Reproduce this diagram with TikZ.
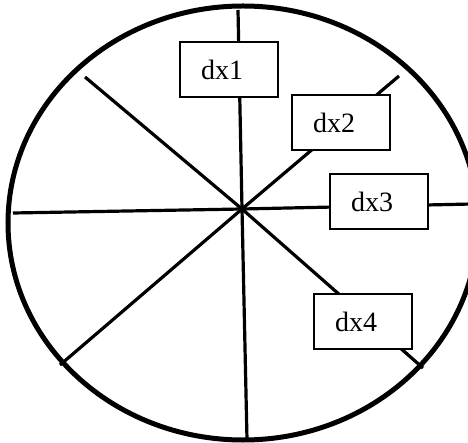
\documentclass[tikz,border=0pt]{standalone}
\usepackage{fontspec}
\setmainfont{Liberation Serif}
\usepackage{tikz}

\begin{document}
\begin{tikzpicture}[x=1pt, y=-1pt,
        % Define styles for the rim, the spokes and the label boxes
        rim/.style={line width=5pt},
        spoke/.style={line width=3.2pt},
        dxbox/.style={draw, fill=white, line width=2.5pt, align=left,
            text width=56pt, inner xsep=21pt, minimum height=55pt,
            font=\fontsize{28}{32}\selectfont}]

        \useasboundingbox (0,0) rectangle (468,443);

        % 1. Define the centre and the eight spoke ends
        \coordinate (O) at (242, 209); % The hub
        \coordinate (N) at (238, 10);
        \coordinate (S) at (247, 440);
        \coordinate (W) at (13, 213);
        \coordinate (E) at (472, 204);
        \coordinate (NW) at (85, 77);
        \coordinate (NE) at (399, 76);
        \coordinate (SW) at (60, 365);
        \coordinate (SE) at (423, 368);

        % 2. Draw the rim
        \draw[rim] (243, 223) ellipse [x radius=235pt, y radius=217pt];

        % 3. Draw the spokes from the hub
        \draw[spoke] (O) -- (N);
        \draw[spoke] (O) -- (S);
        \draw[spoke] (O) -- (W);
        \draw[spoke] (O) -- (E);
        \draw[spoke] (O) -- (NW);
        \draw[spoke] (O) -- (NE);
        \draw[spoke] (O) -- (SW);
        \draw[spoke] (O) -- (SE);

        % 4. Put the label boxes on the spokes
        \node[dxbox] (dx1) at (229, 69.5) {dx1};
        \node[dxbox] (dx2) at (341, 122.5) {dx2};
        \node[dxbox] (dx3) at (379, 201.5) {dx3};
        \node[dxbox] (dx4) at (363, 321.5) {dx4};

    \end{tikzpicture}
\end{document}
